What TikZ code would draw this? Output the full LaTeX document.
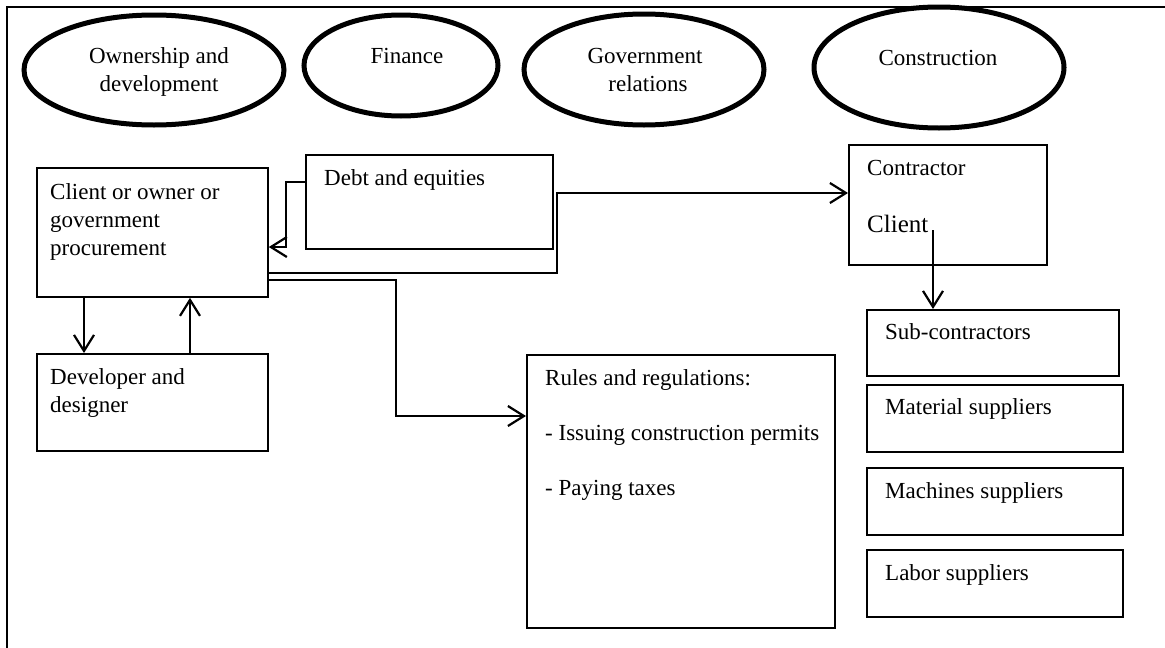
\documentclass[tikz,border=0pt]{standalone}
\usepackage{fontspec}
\setmainfont{Liberation Serif}
\usepackage{tikz}
\usetikzlibrary{arrows.meta}
\usetikzlibrary{shapes.geometric}

\tikzset{
	box/.style={draw, line width=1.8pt, rectangle, anchor=north west, inner sep=0pt},
	ell/.style={draw, line width=5pt, ellipse, inner sep=0pt},
	txt/.style={anchor=base west, inner sep=0pt, font=\fontsize{23}{27}\selectfont},
	etxt/.style={anchor=base, inner sep=0pt, font=\fontsize{23}{27}\selectfont},
	arr/.style={line width=2.2pt, -{Straight Barb[length=16pt,width=20pt]}},
}

\begin{document}
\begin{tikzpicture}[x=1pt,y=-1pt]
	\useasboundingbox (0,0) rectangle (1165,648);
	\draw[line width=2.5pt] (7,648) -- (7,7) -- (1165,7);
	
	% the four fields
	\node (own) at (154,70)[ell, minimum width=260, minimum height=110]{};
	\node (fin) at (401,65.5)[ell, minimum width=194, minimum height=101]{};
	\node (gov) at (644,69.5)[ell, minimum width=240, minimum height=111]{};
	\node (con) at (939,67.5)[ell, minimum width=250, minimum height=121]{};
	
	\node (ownA) at (159,63)[etxt]{Ownership and};
	\node (ownB) at (159,91)[etxt]{development};
	\node (finA) at (407,63)[etxt]{Finance};
	\node (govA) at (645,63)[etxt]{Government};
	\node (govB) at (648,91)[etxt]{relations};
	\node (conA) at (938,65)[etxt]{Construction};
	
	% boxes
	\node (client) at (36,167)[box, minimum width=231, minimum height=129]{};
	\node (debt) at (305,154)[box, minimum width=247, minimum height=94]{};
	\node (dev) at (36,353)[box, minimum width=231, minimum height=97]{};
	\node (contr) at (848,144)[box, minimum width=198, minimum height=120]{};
	\node (rules) at (526,354)[box, minimum width=308, minimum height=273]{};
	\node (sub) at (866,309)[box, minimum width=252, minimum height=66]{};
	\node (mat) at (866,384)[box, minimum width=256, minimum height=67]{};
	\node (mach) at (866,467)[box, minimum width=256, minimum height=67]{};
	\node (labor) at (866,549)[box, minimum width=256, minimum height=67]{};
	
	\node (clientA) at (50,199)[txt]{Client or owner or};
	\node (clientB) at (50,227)[txt]{government};
	\node (clientC) at (50,255)[txt]{procurement};
	\node (debtA) at (324,185)[txt]{Debt and equities};
	\node (devA) at (50,384)[txt]{Developer and};
	\node (devB) at (50,412)[txt]{designer};
	\node (contrA) at (867,175)[txt]{Contractor};
	\node (contrB) at (867,232)[txt, font=\fontsize{25}{30}\selectfont]{Client};
	\node (rulesA) at (545,385)[txt]{Rules and regulations:};
	\node (rulesB) at (545,440)[txt]{- Issuing construction permits};
	\node (rulesC) at (545,495)[txt]{- Paying taxes};
	\node (subA) at (885,339)[txt]{Sub-contractors};
	\node (matA) at (885,414)[txt]{Material suppliers};
	\node (machA) at (885,498)[txt]{Machines suppliers};
	\node (laborA) at (885,580)[txt]{Labor suppliers};
	
	% connectors
	\draw[arr] (debt.west |- 0,182) -- (286,182) -- (286,247) -- (client.east |- 0,247);
	\draw[arr] (client.east |- 0,273) -| (557,193) -- (contr.west |- 0,193);
	\draw[arr] (client.east |- 0,280) -| (396,416) -- (rules.west |- 0,416);
	\draw[arr] (client.south -| 84,0) -- (dev.north -| 84,0);
	\draw[arr] (dev.north -| 190,0) -- (client.south -| 190,0);
	
	\coordinate (cend) at (933,230);
	\draw[arr] (cend) -- (sub.north -| cend);
\end{tikzpicture}
\end{document}
